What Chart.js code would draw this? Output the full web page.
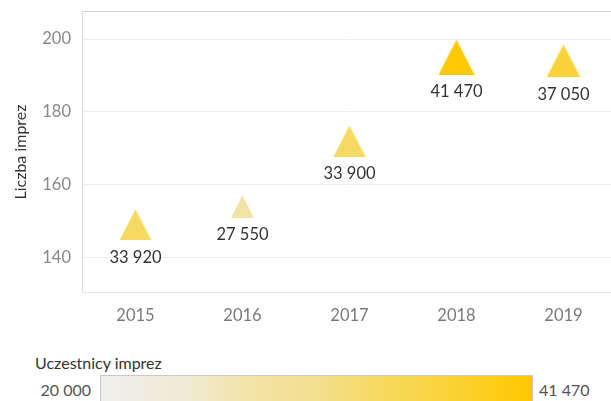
<!DOCTYPE html>
<html><head><meta charset="utf-8">
<script src="https://cdn.jsdelivr.net/npm/chart.js@4/dist/chart.umd.min.js"></script>
<style>
body{margin:0;width:611px;height:401px;overflow:hidden;background:#fff;font-family:Lato,"Open Sans",sans-serif;position:relative}
#wrap{position:absolute;left:0;top:0;width:617px;height:335px}
.t{position:absolute;white-space:nowrap;font-size:16px;line-height:20px}
#lt{left:35px;top:353px;color:#333}
#lmin{right:520px;top:380px;color:#555}
#lmax{left:539px;top:380px;color:#555}
#bar{position:absolute;left:100px;top:375px;width:433px;height:30px;border:1px solid #c9c9c9;box-sizing:border-box}
</style></head><body>
<div id="wrap"><canvas id="c" width="617" height="335"></canvas></div>
<div id="lt" class="t">Uczestnicy imprez</div>
<div id="lmin" class="t"></div>
<div id="bar"></div>
<div id="lmax" class="t"></div>
<script>
// ---- data ----
const years = ['2015', '2016', '2017', '2018', '2019'];
const events = [149, 154, 172, 195, 194];              // Liczba imprez
const participants = [33920, 27550, 33900, 41470, 37050]; // Uczestnicy imprez
const yTicks = [140, 160, 180, 200];
const legendMin = 20000;
const legendMax = 41470;

// ---- styles ----
const stops = [[0, '#efefed'], [0.2, '#f0ead4'], [0.35, '#f3e3a6'], [0.5, '#f3df90'], [0.65, '#f6d960'], [0.8, '#fad33a'], [1, '#ffc800']];
const fmt = v => String(v).replace(/\B(?=(\d{3})+(?!\d))/g, ' ');
function hex2rgb(h){return [1,3,5].map(i=>parseInt(h.substr(i,2),16));}
function colorAt(t){
  t=Math.max(0,Math.min(1,t));
  for(let i=1;i<stops.length;i++){
    if(t<=stops[i][0]){
      const a=stops[i-1],b=stops[i],f=(t-a[0])/(b[0]-a[0]);
      const ca=hex2rgb(a[1]),cb=hex2rgb(b[1]);
      return 'rgb('+ca.map((c,k)=>Math.round(c+(cb[k]-c)*f)).join(',')+')';
    }
  }
  return stops[stops.length-1][1];
}
const pMin = Math.min(...participants), pMax = Math.max(...participants);
function markerSize(v){ return 23 + 13*Math.sqrt((v-pMin)/(pMax-pMin)); }
const markers = participants.map(v=>{
  const w = markerSize(v), h = w*0.97;
  const c = document.createElement('canvas');
  c.width = Math.ceil(w); c.height = Math.ceil(h);
  const x = c.getContext('2d');
  x.fillStyle = colorAt((v-legendMin)/(legendMax-legendMin));
  x.beginPath(); x.moveTo(c.width/2,0); x.lineTo(c.width,c.height); x.lineTo(0,c.height); x.closePath(); x.fill();
  return c;
});

document.getElementById('lmin').textContent = fmt(legendMin);
document.getElementById('lmax').textContent = fmt(legendMax);
document.getElementById('bar').style.background = 'linear-gradient(to right,' + stops.map(s=>s[1]+' '+(s[0]*100)+'%').join(',') + ')';

const frame = {
  id:'frame',
  beforeDatasetsDraw(ch){
    const a = ch.chartArea, g = ch.ctx;
    g.save(); g.lineWidth = 1;
    g.strokeStyle = '#d2d2d2';
    g.beginPath(); g.moveTo(a.left, a.top+0.5); g.lineTo(a.right, a.top+0.5); g.stroke();
    g.strokeStyle = '#dcdcdc';
    g.beginPath(); g.moveTo(a.left+0.5, a.top); g.lineTo(a.left+0.5, a.bottom); g.stroke();
    g.strokeStyle = '#e4e4e4';
    g.beginPath(); g.moveTo(a.left, a.bottom-0.5); g.lineTo(a.right, a.bottom-0.5); g.stroke();
    g.restore();
  }
};
const labels = {
  id:'labels',
  afterDatasetsDraw(ch){
    const g = ch.ctx, meta = ch.getDatasetMeta(0);
    g.save();
    g.font = '16.5px Lato, "Open Sans", sans-serif';
    g.fillStyle = '#333'; g.textAlign = 'center'; g.textBaseline = 'middle';
    meta.data.forEach((pt,i)=>{
      const h = markers[i].height;
      g.fillText(fmt(participants[i]), pt.x, pt.y + h/2 + 17);
    });
    g.restore();
  }
};
function noPad(s){ s.paddingTop = 0; s.paddingBottom = 0; s.paddingLeft = 0; s.paddingRight = 0; }

new Chart(document.getElementById('c'), {
  type:'line',
  data:{ labels: years, datasets:[{ data: events, showLine:false,
    pointStyle: ctx => markers[ctx.dataIndex], pointRadius: 12, pointHoverRadius: 12 }]},
  options:{
    responsive:false, animation:false, events:[],
    layout:{ autoPadding:false, padding:{ top:11, left:0, right:0, bottom:0 } },
    plugins:{ legend:{display:false}, tooltip:{enabled:false} },
    scales:{
      x:{ offset:true, grid:{display:false, drawTicks:false}, border:{display:false},
        ticks:{ color:'#7a7a7a', font:{family:'Lato', size:16.5}, padding:13 },
        afterFit(s){ s.height = 335-293; noPad(s); } },
      y:{ min:130.3, max:207.7,
        grid:{ color:'#ededed', drawTicks:false }, border:{display:false},
        ticks:{ color:'#888', font:{family:'Lato', size:16.5}, padding:11 },
        afterBuildTicks(s){ s.ticks = yTicks.map(v=>({value:v})); },
        title:{ display:true, text:'Liczba imprez', color:'#333', font:{family:'Lato', size:16}, padding:{top:11,bottom:0} },
        afterFit(s){ s.width = 82; noPad(s); } }
    }
  },
  plugins:[frame, labels]
});
</script>
</body></html>
